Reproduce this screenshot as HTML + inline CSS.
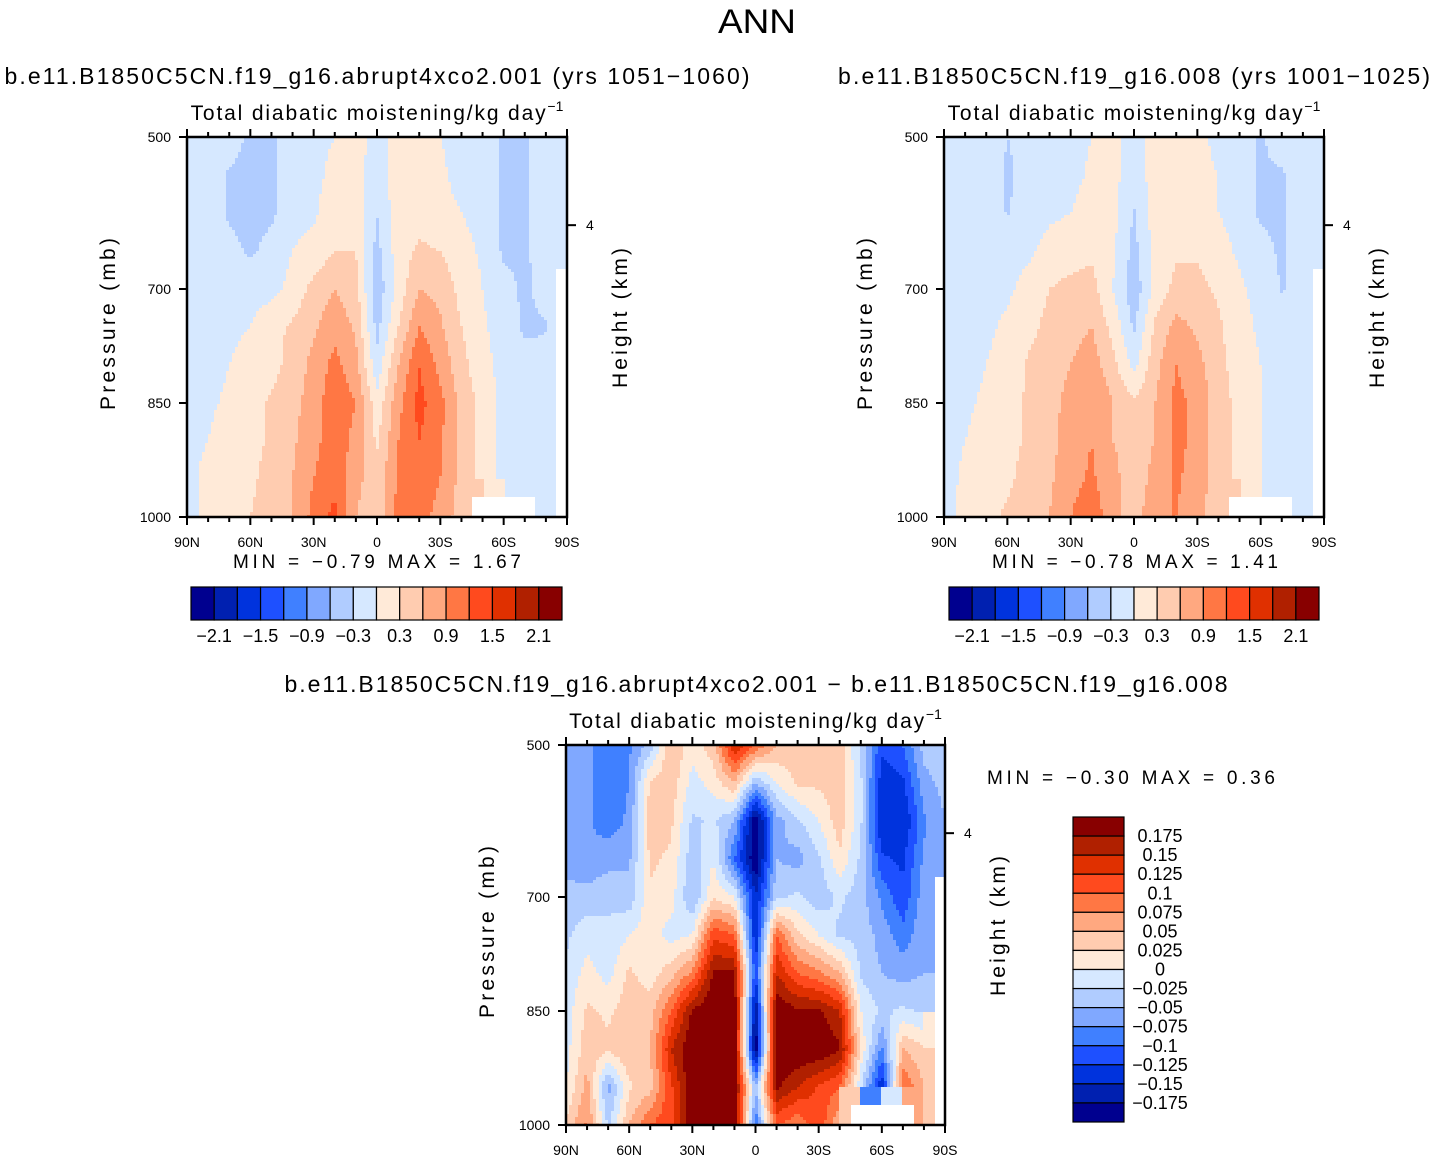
<!DOCTYPE html>
<html><head><meta charset="utf-8"><style>
body{margin:0;background:#fff}
svg{display:block;font-family:"Liberation Sans",sans-serif}
</style></head><body>
<svg id="root" width="1434" height="1163" viewBox="0 0 1434 1163">
<text x="757" y="33" font-size="34" text-anchor="middle" textLength="78" lengthAdjust="spacingAndGlyphs" fill="#000">ANN</text>
</svg>
<script>
const lats=["90N","80N","70N","60N","50N","40N","30N","20N","10N","0","10S","20S","30S","40S","50S","60S","70S","80S","90S"];
const pres=[500,550,600,650,700,750,800,850,900,950,1000];
const colors=["#00008f","#0020b0","#0033dd","#1e50ff","#4080ff","#80a8ff","#b0ccff","#d6e8ff","#ffead8","#ffccb0","#ffa880","#ff7744","#ff4a1e","#e03000","#b02000","#880000"];
const bounds1=[-2.1,-1.8,-1.5,-1.2,-0.9,-0.6,-0.3,0,0.3,0.6,0.9,1.2,1.5,1.8,2.1];
const bounds3=[-0.175,-0.15,-0.125,-0.1,-0.075,-0.05,-0.025,0,0.025,0.05,0.075,0.1,0.125,0.15,0.175];
const cbLabels1=["−2.1","−1.5","−0.9","−0.3","0.3","0.9","1.5","2.1"];
const cbLabels3=["0.175","0.15","0.125","0.1","0.075","0.05","0.025","0","−0.025","−0.05","−0.075","−0.1","−0.125","−0.15","−0.175"];
const grid1=[
[-0.1,-0.1,-0.1,-0.4,-0.35,-0.1,-0.1,0.0,0.1,-0.1,0.1,0.1,0.0,-0.1,-0.1,-0.35,-0.35,-0.1,-0.1],
[-0.1,-0.1,-0.35,-0.4,-0.35,-0.1,-0.1,0.1,0.15,-0.2,0.15,0.15,0.05,-0.1,-0.1,-0.35,-0.35,-0.1,-0.1],
[-0.1,-0.1,-0.35,-0.4,-0.35,-0.1,-0.05,0.2,0.2,-0.3,0.2,0.2,0.1,0.0,-0.1,-0.35,-0.35,-0.1,-0.1],
[-0.1,-0.1,-0.2,-0.35,-0.2,0.0,0.1,0.3,0.3,-0.4,0.15,0.35,0.3,0.1,-0.05,-0.35,-0.35,-0.15,-0.1],
[-0.1,-0.1,-0.1,-0.1,-0.1,0.1,0.4,0.6,0.4,-0.5,0.1,0.6,0.5,0.2,0.0,-0.2,-0.35,-0.2,null],
[-0.1,-0.1,-0.05,0.0,0.2,0.35,0.55,0.8,0.55,-0.4,0.3,0.9,0.65,0.3,0.05,-0.15,-0.35,-0.32,null],
[-0.1,-0.1,0.0,0.1,0.2,0.4,0.7,1.0,0.7,-0.2,0.6,1.2,0.8,0.4,0.1,-0.1,-0.2,-0.2,null],
[-0.1,-0.05,0.05,0.15,0.35,0.5,0.75,1.1,0.9,0.1,0.8,1.3,1.0,0.5,0.2,-0.1,-0.15,-0.1,null],
[-0.1,0.0,0.15,0.2,0.35,0.55,0.8,1.1,0.8,0.25,0.9,1.2,0.95,0.5,0.2,-0.1,-0.1,-0.1,null],
[-0.1,0.1,0.2,0.25,0.4,0.6,0.9,1.1,0.7,0.4,0.95,1.1,0.9,0.5,0.2,-0.1,-0.1,-0.1,null],
[-0.1,0.1,0.2,0.3,0.4,0.6,1.0,1.3,0.6,0.4,1.0,1.0,0.8,0.45,null,null,null,-0.1,null]];
const grid2=[
[-0.1,-0.1,-0.1,-0.3,-0.2,-0.1,-0.1,0.0,0.05,-0.1,0.1,0.15,0.1,-0.1,-0.1,-0.35,-0.1,-0.1,-0.1],
[-0.1,-0.1,-0.1,-0.35,-0.2,-0.1,-0.1,0.05,0.1,-0.2,0.15,0.2,0.1,0.0,-0.1,-0.35,-0.35,-0.1,-0.1],
[-0.1,-0.1,-0.1,-0.32,-0.15,-0.05,0.0,0.15,0.1,-0.32,0.15,0.2,0.15,0.0,-0.1,-0.35,-0.35,-0.1,-0.1],
[-0.1,-0.1,-0.1,-0.1,-0.05,0.1,0.15,0.25,0.05,-0.4,0.1,0.25,0.25,0.1,-0.05,-0.2,-0.35,-0.15,-0.1],
[-0.1,-0.1,-0.1,-0.05,0.1,0.3,0.4,0.4,0.0,-0.5,0.1,0.4,0.4,0.25,0.05,-0.1,-0.32,-0.2,null],
[-0.1,-0.1,-0.05,0.05,0.2,0.4,0.5,0.6,0.2,-0.35,0.35,0.7,0.55,0.35,0.1,-0.05,-0.2,-0.2,null],
[-0.1,-0.1,0.0,0.1,0.35,0.45,0.6,0.75,0.4,-0.1,0.5,0.9,0.7,0.4,0.15,0.0,-0.1,-0.15,null],
[-0.1,-0.05,0.05,0.15,0.35,0.5,0.7,0.9,0.6,0.35,0.6,1.0,0.8,0.45,0.2,0.0,-0.1,-0.1,null],
[-0.1,0.0,0.1,0.2,0.35,0.5,0.75,0.9,0.6,0.5,0.6,1.0,0.8,0.45,0.2,0.0,-0.1,-0.1,null],
[-0.1,0.05,0.15,0.25,0.4,0.55,0.8,0.95,0.7,0.4,0.7,0.95,0.75,0.45,0.2,0.0,-0.1,-0.1,null],
[-0.1,0.1,0.2,0.35,0.4,0.6,0.9,1.1,0.7,0.4,0.9,0.9,0.7,0.4,null,null,null,-0.1,null]];
const grid3=[
[-0.06,-0.07,-0.09,-0.08,-0.04,0.05,0.01,0.04,0.15,0.1,0.05,0.04,0.03,0.04,-0.03,-0.12,-0.1,-0.04,-0.03],
[-0.06,-0.07,-0.09,-0.075,0.03,0.04,-0.01,0.01,0.05,-0.05,0.0,0.03,0.03,0.04,-0.02,-0.14,-0.13,-0.06,-0.04],
[-0.06,-0.07,-0.09,-0.07,0.04,0.03,-0.03,-0.02,-0.05,-0.2,-0.06,-0.03,0.0,0.04,-0.02,-0.15,-0.15,-0.08,-0.05],
[-0.06,-0.07,-0.06,-0.055,0.03,0.02,-0.04,0.0,-0.1,-0.2,-0.05,-0.06,-0.03,0.02,-0.03,-0.12,-0.13,-0.07,-0.05],
[-0.04,-0.04,-0.03,-0.04,0.02,0.01,-0.05,0.02,0.0,-0.15,-0.03,-0.02,-0.04,-0.02,-0.04,-0.08,-0.12,-0.06,null],
[-0.03,-0.01,-0.02,0.0,0.01,-0.01,0.0,0.12,0.1,-0.15,0.1,0.03,0.0,-0.03,-0.035,-0.06,-0.09,-0.055,null],
[-0.02,0.01,-0.01,0.03,0.01,0.04,0.08,0.18,0.18,-0.12,0.15,0.1,0.08,0.05,-0.03,-0.05,-0.06,-0.05,null],
[-0.015,0.03,0.02,0.04,0.04,0.1,0.18,0.2,0.2,-0.18,0.2,0.18,0.18,0.15,0.0,-0.03,-0.02,-0.03,null],
[-0.01,0.04,0.03,0.05,0.05,0.15,0.2,0.2,0.2,-0.2,0.2,0.2,0.2,0.18,0.02,-0.08,0.05,0.03,null],
[0.0,0.06,-0.06,0.02,0.04,0.12,0.2,0.2,0.2,-0.05,0.18,0.15,0.12,0.1,-0.02,-0.15,0.1,0.05,null],
[0.03,0.08,-0.03,0.05,0.1,0.12,0.2,0.2,0.2,-0.1,0.1,0.08,0.12,0.05,null,null,null,0.02,null]];

const NS="http://www.w3.org/2000/svg";
const root=document.getElementById('root');
function mk(tag,attrs,parent){const e=document.createElementNS(NS,tag);for(const k in attrs)e.setAttribute(k,attrs[k]);(parent||root).appendChild(e);return e;}
function txt(x,y,s,size,anchor,parent,rot,len){const t=mk('text',{x:x,y:y,'font-size':size,'text-anchor':anchor||'middle',fill:'#000'},parent);if(rot)t.setAttribute('transform',`rotate(${rot} ${x} ${y})`);if(len){t.setAttribute('textLength',len);t.setAttribute('lengthAdjust','spacing');}t.textContent=s;return t;}
function colorFor(v,b){if(v===null)return '#fff';v=Math.round(v*1e6)/1e6;let i=0;while(i<b.length&&v>=b[i])i++;return colors[i];}
function sample(grid,fx,fy){
  const nc=grid[0].length-1,nr=grid.length-1;
  const i0=Math.max(0,Math.min(Math.floor(fx),nc-1)),j0=Math.max(0,Math.min(Math.floor(fy),nr-1));
  const tx=fx-i0,ty=fy-j0;
  const c=[grid[j0][i0],grid[j0][i0+1],grid[j0+1][i0],grid[j0+1][i0+1]];
  if(c.some(v=>v===null)){const ni=tx<0.5?i0:i0+1,nj=ty<0.5?j0:j0+1;const v=grid[nj][ni];if(v===null)return null;
    const vals=c.filter(v=>v!==null);return vals.reduce((a,b)=>a+b,0)/vals.length;}
  return c[0]*(1-tx)*(1-ty)+c[1]*tx*(1-ty)+c[2]*(1-tx)*ty+c[3]*tx*ty;
}
function presIndex(p){for(let j=0;j<pres.length-1;j++){if(p<=pres[j+1])return j+(p-pres[j])/(pres[j+1]-pres[j]);}return pres.length-1;}
function panel(name,grid,bounds,x0,y0,w,h){
  const g=mk('g',{});
  
  
  const cells=mk('g',{},g);
  
  
  const bs=3;
  for(let y=0;y<h;y+=bs){
    const p=pres[0]+(y+bs/2)/h*(pres[pres.length-1]-pres[0]);
    const fy=presIndex(p);
    let runStart=0,runCol=null;
    for(let x=0;;x+=bs){
      const done=x>=w;
      let col=null;
      if(!done){const fx=Math.min(x+bs/2,w)/w*(lats.length-1);col=colorFor(sample(grid,fx,fy),bounds);}
      if(done||col!==runCol){
        if(runCol!==null){const r=mk('rect',{x:x0+runStart,y:y0+y,width:Math.min(x,w)-runStart+0.6,height:Math.min(bs,h-y)+0.6,fill:runCol},cells);
          
          }
        runStart=x;runCol=col;
      }
      if(done)break;
    }
  }
  const frame=mk('rect',{x:x0,y:y0,width:w,height:h,fill:'none',stroke:'#000','stroke-width':2.5},g);
  
  
  for(let i=0;i<lats.length;i++){
    const x=x0+i*w/(lats.length-1);const major=i%3===0;const L=major?8:5;
    mk('line',{x1:x,x2:x,y1:y0+h,y2:y0+h+L,stroke:'#000','stroke-width':2},g);
    mk('line',{x1:x,x2:x,y1:y0,y2:y0-L,stroke:'#000','stroke-width':2},g);
    if(major){const t=txt(x,y0+h+30,lats[i],14,'middle',g);
      
      }
  }
  [500,700,850,1000].forEach(p=>{const y=y0+(p-500)/500*h;
    mk('line',{x1:x0-8,x2:x0,y1:y,y2:y,stroke:'#000','stroke-width':2},g);
    const t=txt(x0-16,y+5,String(p),14,'end',g);
    
    });
  const y4=y0+0.232*h;
  mk('line',{x1:x0+w,x2:x0+w+9,y1:y4,y2:y4,stroke:'#000','stroke-width':2},g);
  const t4=txt(x0+w+19,y4+5,'4',14,'start',g);
  
  
  const yl=txt(x0-72,y0+h/2-3,'Pressure  (mb)',21,'middle',g,-90,172);
  
  
  const yr=txt(x0+w+60,y0+h/2-9,'Height  (km)',21,'middle',g,-90,140);
  
  
  const st=mk('text',{x:x0+w/2,y:y0-17,'font-size':21,'text-anchor':'middle'},g);
  st.innerHTML='<tspan textLength="355" lengthAdjust="spacing">Total  diabatic  moistening/kg  day</tspan><tspan dy="-9" font-size="14">−1</tspan>';
  
  
}
function hbar(name,x0,y0,w,h){
  const g=mk('g',{});
  
  
  const bw=w/colors.length;
  colors.forEach((c,i)=>{const r=mk('rect',{x:x0+i*bw,y:y0,width:bw,height:h,fill:c,stroke:'#000','stroke-width':1.2},g);
    
    });
  cbLabels1.forEach((s,k)=>{const t=txt(x0+(1+2*k)*bw,y0+h+22,s,18,'middle',g);
    
    });
}
function vbar(x0,y0,w,h){
  const g=mk('g',{});
  
  
  const bh=h/colors.length;
  colors.slice().reverse().forEach((c,i)=>{const r=mk('rect',{x:x0,y:y0+i*bh,width:w,height:bh,fill:c,stroke:'#000','stroke-width':1.2},g);
    
    });
  cbLabels3.forEach((s,k)=>{const t=txt(x0+w+36,y0+(k+1)*bh+6,s,18,'middle',g);
    
    });
}
function label(x,y,s,size,name,anchor,len){const t=txt(x,y,s,size,anchor||'middle',null,0,len);
  
  }

panel('case',grid1,bounds1,187,137,380,380);
panel('control',grid2,bounds1,944,137,380,380);
panel('difference',grid3,bounds3,566,745,379,380);
label(377,84,'b.e11.B1850C5CN.f19_g16.abrupt4xco2.001  (yrs  1051−1060)',23,'case-title','middle',745);
label(1134,84,'b.e11.B1850C5CN.f19_g16.008  (yrs  1001−1025)',23,'control-title','middle',592);
label(756,692,'b.e11.B1850C5CN.f19_g16.abrupt4xco2.001  −  b.e11.B1850C5CN.f19_g16.008',23,'difference-title','middle',943);
label(233,568,'MIN  =    −0.79    MAX  =     1.67',19,'case-min-max','start',288);
label(992,568,'MIN  =    −0.78    MAX  =     1.41',19,'control-min-max','start',286);
label(987,784,'MIN  =    −0.30    MAX  =     0.36',19,'difference-min-max','start',288);
hbar('case-colorbar',191,587,371,33);
hbar('control-colorbar',949,587,370,33);
vbar(1073,817,51,305);
</script>
</body></html>
